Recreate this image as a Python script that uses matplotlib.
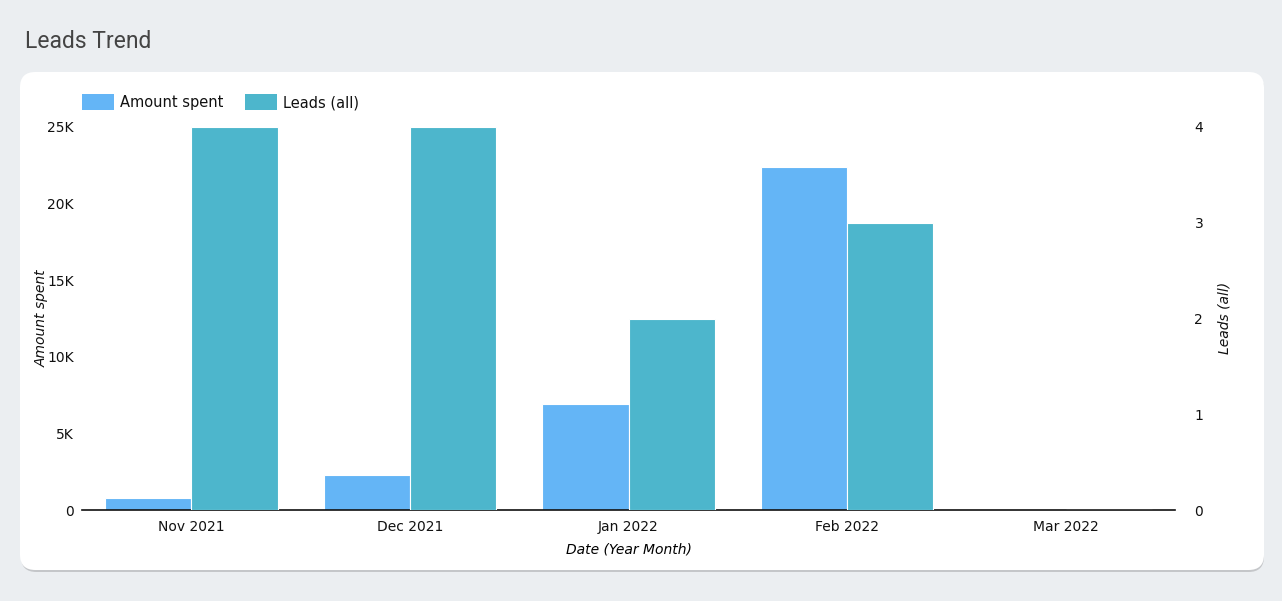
import matplotlib
matplotlib.use("Agg")
import matplotlib.pyplot as plt
from matplotlib.patches import FancyBboxPatch, Rectangle
from matplotlib.ticker import FuncFormatter
import numpy as np

plt.rcParams["font.family"] = ["DejaVu Sans"]

months = ["Nov 2021", "Dec 2021", "Jan 2022", "Feb 2022", "Mar 2022"]
amount_spent = [800, 2300, 6950, 22400, 0]
leads_all = [4, 4, 2, 3, 0]

W, H = 1282, 601
fig = plt.figure(figsize=(W / 100, H / 100), dpi=100)
fig.patch.set_facecolor("#ebeef1")

# card with shadow
shadow = FancyBboxPatch((21 / W, 1 - 572 / H), 1243 / W, 498 / H,
                        boxstyle="round,pad=0,rounding_size=0.012",
                        transform=fig.transFigure, facecolor="#c4c6c9",
                        edgecolor="none", zorder=0, mutation_aspect=W / H)
fig.patches.append(shadow)
card = FancyBboxPatch((20 / W, 1 - 570 / H), 1244 / W, 498 / H,
                      boxstyle="round,pad=0,rounding_size=0.012",
                      transform=fig.transFigure, facecolor="white",
                      edgecolor="none", zorder=1, mutation_aspect=W / H)
fig.patches.append(card)

fig.text(25 / W, 1 - 42 / H, "Leads Trend", fontsize=16.5, color="#444444",
         family="Roboto", va="center", ha="left")

x0, x1 = 82, 1175
y0, y1 = 127, 510
ax = fig.add_axes([x0 / W, 1 - y1 / H, (x1 - x0) / W, (y1 - y0) / H])
ax.set_facecolor("none")
ax.set_zorder(3)
ax2 = ax.twinx()

c_amt = "#64b5f6"
c_lead = "#4db6cc"
x = np.arange(len(months))
bw = 0.395
ax.bar(x - bw / 2, amount_spent, width=bw, color=c_amt, edgecolor="white",
       linewidth=0.8)
ax2.bar(x + bw / 2, leads_all, width=bw, color=c_lead, edgecolor="white",
        linewidth=0.8)

ax.set_xlim(-0.5, len(months) - 0.5)
ax.set_ylim(0, 25000)
ax2.set_ylim(0, 4)
ax.set_yticks([0, 5000, 10000, 15000, 20000, 25000])
ax.yaxis.set_major_formatter(FuncFormatter(lambda v, p: "0" if v == 0 else f"{int(v/1000)}K"))
ax2.set_yticks([0, 1, 2, 3, 4])
ax.set_xticks(x)
ax.set_xticklabels(months)

for a in (ax, ax2):
    for s in a.spines.values():
        s.set_visible(False)
    a.tick_params(length=0, labelsize=10, colors="#111111")
ax.spines["bottom"].set_visible(True)
ax.spines["bottom"].set_color("#111111")
ax.spines["bottom"].set_linewidth(1.2)
ax.tick_params(axis="y", pad=6)
ax.tick_params(axis="x", pad=7)
ax2.tick_params(axis="y", pad=14)

fig.text(42 / W, 1 - 318 / H, "Amount spent", fontstyle="italic", fontsize=10,
         rotation=90, ha="center", va="center", color="#111111")
fig.text(1225 / W, 1 - 318 / H, "Leads (all)", fontstyle="italic", fontsize=10,
         rotation=90, ha="center", va="center", color="#111111")
ax.set_xlabel("Date (Year Month)", fontstyle="italic", fontsize=10, labelpad=6)

# legend
for px, col, lab in [(82, c_amt, "Amount spent"), (245, c_lead, "Leads (all)")]:
    fig.patches.append(Rectangle((px / W, 1 - 110 / H), 32 / W, 16 / H,
                                 transform=fig.transFigure, facecolor=col,
                                 edgecolor="none", zorder=4))
    fig.text((px + 38) / W, 1 - 103 / H, lab, fontsize=10.5, va="center",
             ha="left", color="#111111", zorder=4)

fig.savefig("out.png", dpi=100, facecolor=fig.get_facecolor())
